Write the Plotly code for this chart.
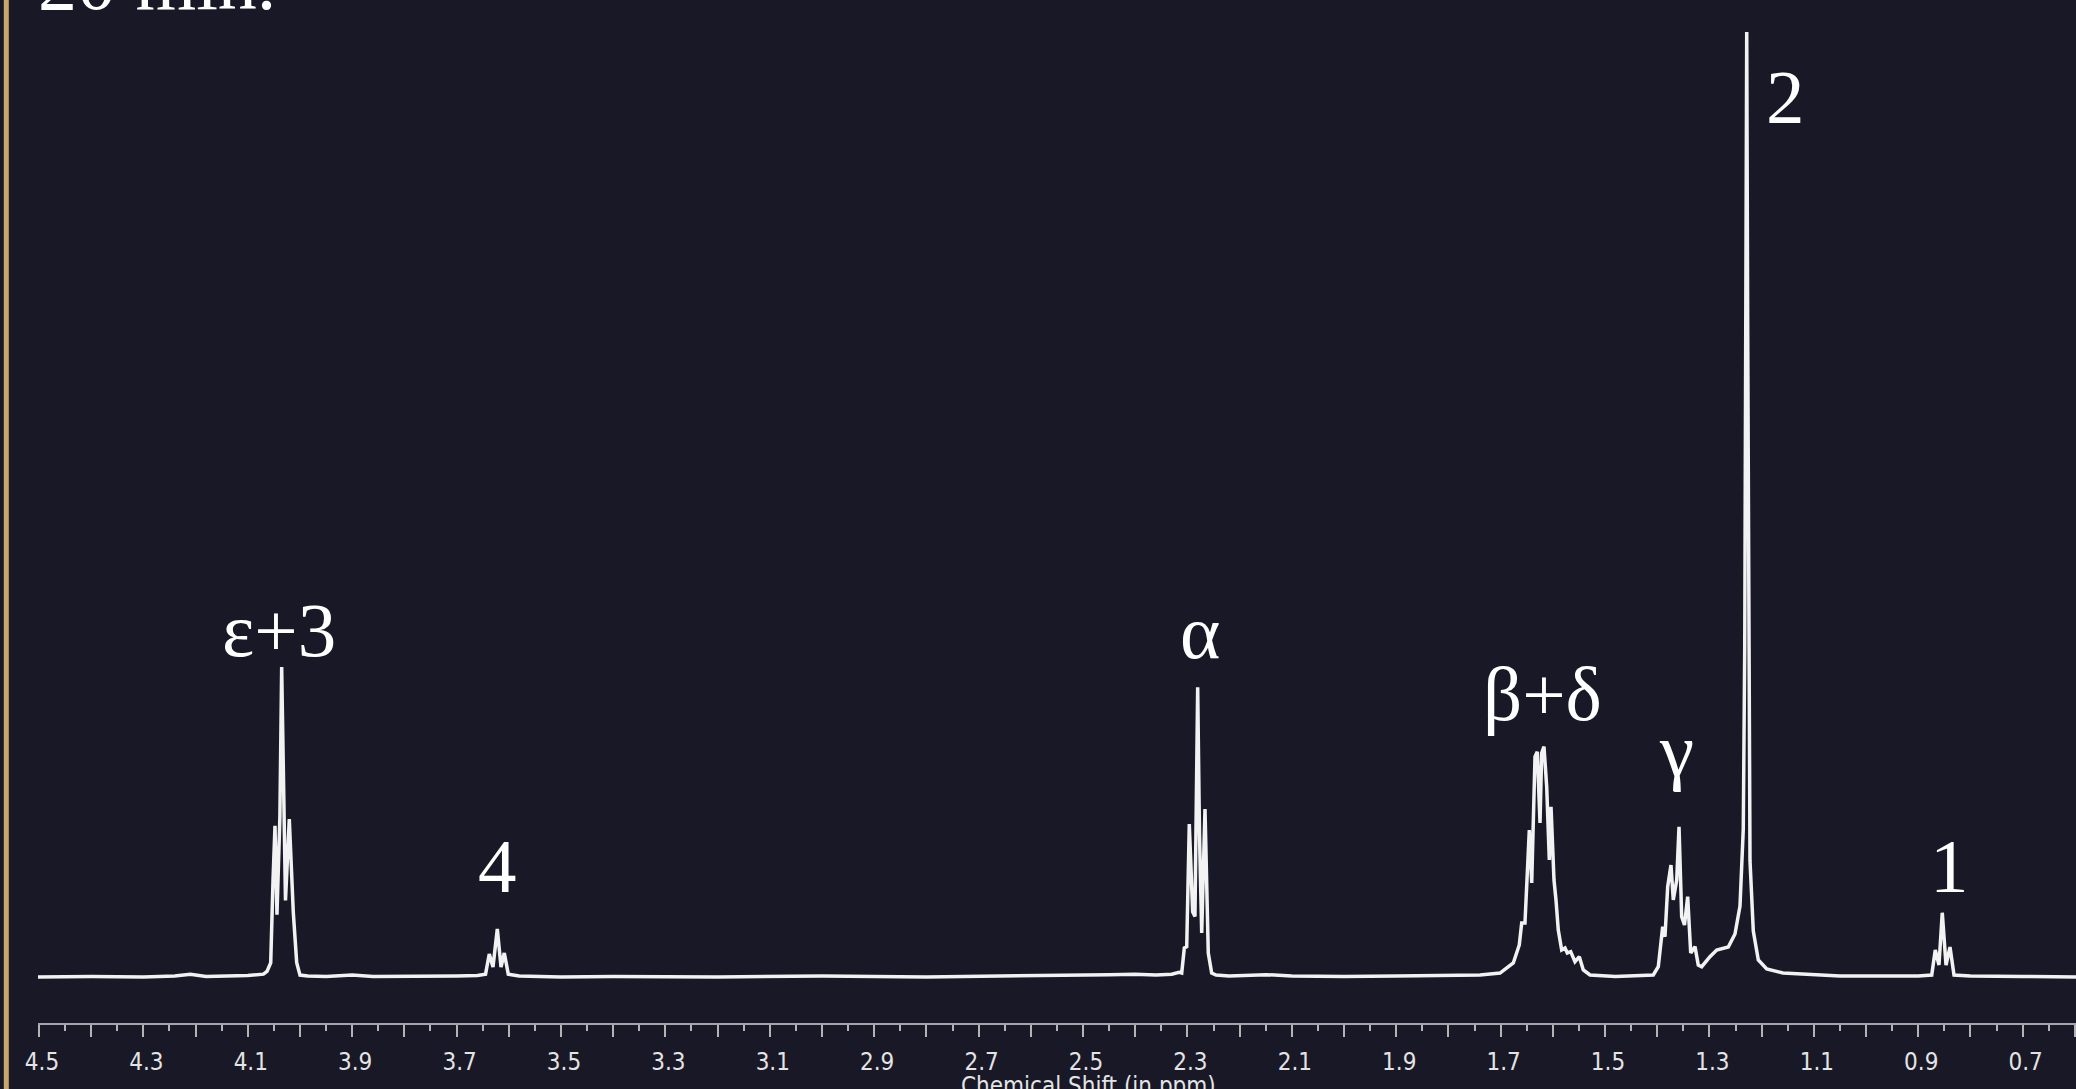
import plotly.graph_objects as go

# ---- spectrum data (ppm, relative intensity; tallest peak = 100) ----
ppm_eps = [4.502, 4.40, 4.30, 4.24, 4.21, 4.18, 4.10, 4.070, 4.0632, 4.0561, 4.0517, 4.0479, 4.0441,
           4.0385, 4.0351, 4.0315, 4.0278, 4.0205, 4.0128, 4.0063, 4.0000, 3.985, 3.95, 3.90, 3.86]
int_eps = [0.0, 0.05, 0.0, 0.1, 0.3, 0.05, 0.15, 0.3, 0.6, 1.5, 10.2, 16.0, 6.6,
           17.0, 32.8, 17.0, 8.1, 16.7, 6.8, 1.5, 0.2, 0.1, 0.05, 0.2, 0.05]

ppm_4 = [3.70, 3.66, 3.6445, 3.6374, 3.6303, 3.6220, 3.6149, 3.6086, 3.6010, 3.58,
         3.50, 3.40, 3.20, 3.00, 2.80, 2.60, 2.45, 2.40, 2.36, 2.33]
int_4 = [0.1, 0.15, 0.3, 2.43, 1.06, 5.08, 1.06, 2.54, 0.3, 0.1,
         0.0, 0.05, 0.0, 0.1, 0.0, 0.1, 0.25, 0.3, 0.2, 0.3]

ppm_alpha = [2.3160, 2.3109, 2.3059, 2.3013, 2.2964, 2.2899, 2.2855, 2.2826, 2.2803, 2.2768,
             2.2726, 2.2663, 2.2600, 2.2535, 2.245, 2.22, 2.15, 2.10, 2.00, 1.90, 1.80, 1.76]
int_alpha = [0.5, 0.42, 3.07, 3.2, 16.19, 6.9, 6.4, 20.0, 30.66, 15.0,
             4.66, 17.78, 2.54, 0.42, 0.2, 0.1, 0.25, 0.1, 0.05, 0.1, 0.15, 0.2]

ppm_beta = [1.7395, 1.7011, 1.6757, 1.6642, 1.6596, 1.6533, 1.6450, 1.6404, 1.6341, 1.6297,
            1.6245, 1.6213, 1.6169, 1.6117, 1.6067, 1.6034, 1.5977, 1.5939, 1.5895, 1.5830,
            1.5766, 1.5722, 1.5657, 1.5575, 1.5492, 1.5416, 1.5287, 1.48, 1.4330]
int_beta = [0.21, 0.42, 1.48, 3.39, 5.71, 5.71, 15.56, 9.95, 23.31, 23.84,
            16.30, 23.70, 24.37, 20.14, 12.38, 18.02, 10.26, 8.15, 4.97, 2.86,
            3.07, 2.54, 2.68, 1.62, 2.15, 0.74, 0.21, 0.05, 0.1]

ppm_gamma = [1.4075, 1.3979, 1.3895, 1.3851, 1.3799, 1.3736, 1.3692, 1.3626, 1.3582, 1.3531,
             1.3477, 1.3416, 1.3358, 1.3276, 1.3213, 1.3148, 1.2989, 1.2860, 1.2638, 1.2510]
int_gamma = [0.21, 1.09, 5.32, 4.26, 9.56, 11.85, 8.15, 10.26, 15.90, 6.38,
             5.5, 8.50, 2.54, 3.21, 1.27, 1.09, 2.15, 2.86, 3.17, 4.55]

ppm_2 = [1.2414, 1.2351, 1.2323, 1.2304, 1.2285, 1.2266, 1.2247, 1.2222, 1.2159, 1.2063,
         1.1902, 1.1590, 1.0498, 0.95, 0.90]
int_2 = [7.51, 15.66, 35.0, 68.0, 100.0, 68.0, 35.0, 12.28, 4.87, 1.80,
         0.85, 0.42, 0.1, 0.05, 0.1]

ppm_1 = [0.8741, 0.8673, 0.8602, 0.8539, 0.8467, 0.8391, 0.8314, 0.80, 0.70, 0.5977]
int_1 = [0.2, 2.86, 1.27, 6.8, 1.27, 3.17, 0.2, 0.1, 0.05, 0.0]

# peak assignments: label, ppm, baseline height of the label
label_text = ["ε+3", "4", "α", "β+δ", "γ", "2", "1"]
label_ppm = [4.0402, 3.6207, 2.2759, 1.6200, 1.3621, 1.1533, 0.8410]
label_int = [33.9, 8.9, 33.6, 27.1, 21.2, 90.3, 8.9]

tick_vals = [4.5, 4.4, 4.3, 4.2, 4.1, 4.0, 3.9, 3.8, 3.7, 3.6, 3.5, 3.4, 3.3, 3.2, 3.1, 3.0,
             2.9, 2.8, 2.7, 2.6, 2.5, 2.4, 2.3, 2.2, 2.1, 2.0, 1.9, 1.8, 1.7, 1.6, 1.5, 1.4,
             1.3, 1.2, 1.1, 1.0, 0.9, 0.8, 0.7, 0.6]
tick_text = ["4.5", "", "4.3", "", "4.1", "", "3.9", "", "3.7", "", "3.5", "", "3.3", "", "3.1", "",
             "2.9", "", "2.7", "", "2.5", "", "2.3", "", "2.1", "", "1.9", "", "1.7", "", "1.5", "",
             "1.3", "", "1.1", "", "0.9", "", "0.7", ""]

x_all = ppm_eps + ppm_4 + ppm_alpha + ppm_beta + ppm_gamma + ppm_2 + ppm_1
y_all = int_eps + int_4 + int_alpha + int_beta + int_gamma + int_2 + int_1

W, H = 2076, 1089
ML, MR, MT, MB = 38, 0, 0, 66
PH = H - MT - MB
PW = W - ML - MR
BG = "#181827"
SERIF = "Liberation Serif, Times New Roman, serif"
SANS = "DejaVu Sans Condensed, DejaVu Sans, Verdana, sans-serif"

fig = go.Figure()
fig.add_trace(go.Scatter(x=x_all, y=y_all, mode="lines",
                         line=dict(color="#f2f2f2", width=3.5), hoverinfo="skip",
                         showlegend=False))

annotations = []
for t, xp, yv in zip(label_text, label_ppm, label_int):
    annotations.append(dict(x=xp, y=yv, xref="x", yref="y", text=t, showarrow=False,
                            xanchor="center", yanchor="bottom", yshift=-18,
                            font=dict(family=SERIF, size=77, color="#ffffff")))

annotations.append(dict(x=0, y=1, xref="paper", yref="paper", text="20 min.", showarrow=False,
                        xanchor="left", yanchor="bottom", yshift=-28, xshift=-2,
                        font=dict(family=SERIF, size=78, color="#ffffff")))
annotations.append(dict(x=2.49, y=-(1070 - (H - MB)) / PH, xref="x", yref="paper",
                        text="Chemical Shift (in ppm)", showarrow=False,
                        xanchor="center", yanchor="top",
                        font=dict(family=SANS, size=24, color="#e4e4e4")))

fig.update_layout(
    width=W, height=H,
    margin=dict(l=ML, r=MR, t=MT, b=MB),
    paper_bgcolor=BG, plot_bgcolor=BG,
    xaxis=dict(range=[4.5019, 0.5977], showgrid=False, zeroline=False,
               showline=True, linecolor="#a4a4aa", linewidth=2,
               tickmode="array", tickvals=tick_vals, ticktext=tick_text,
               ticks="outside", ticklen=12, tickwidth=2, tickcolor="#b4b4b8",
               ticklabelstandoff=4, ticklabelshift=-3,
               tickfont=dict(family=SANS, size=24, color="#e4e4e4"),
               minor=dict(tickmode="linear", tick0=0, dtick=0.05, ticks="outside",
                          ticklen=6, tickwidth=2, tickcolor="#b4b4b8")),
    yaxis=dict(range=[-4.868, 103.386], visible=False, showgrid=False, zeroline=False),
    annotations=annotations,
    shapes=[dict(type="rect", xref="paper", yref="paper",
                 x0=(3.8 - ML) / PW, x1=(8.8 - ML) / PW, y0=-MB / PH, y1=1.0,
                 fillcolor="#caa76c", line=dict(width=0), layer="above")],
)

fig.write_html("out.html", config={"displayModeBar": False},
               post_script="document.body.style.margin='0';document.body.style.background='" + BG + "';")
